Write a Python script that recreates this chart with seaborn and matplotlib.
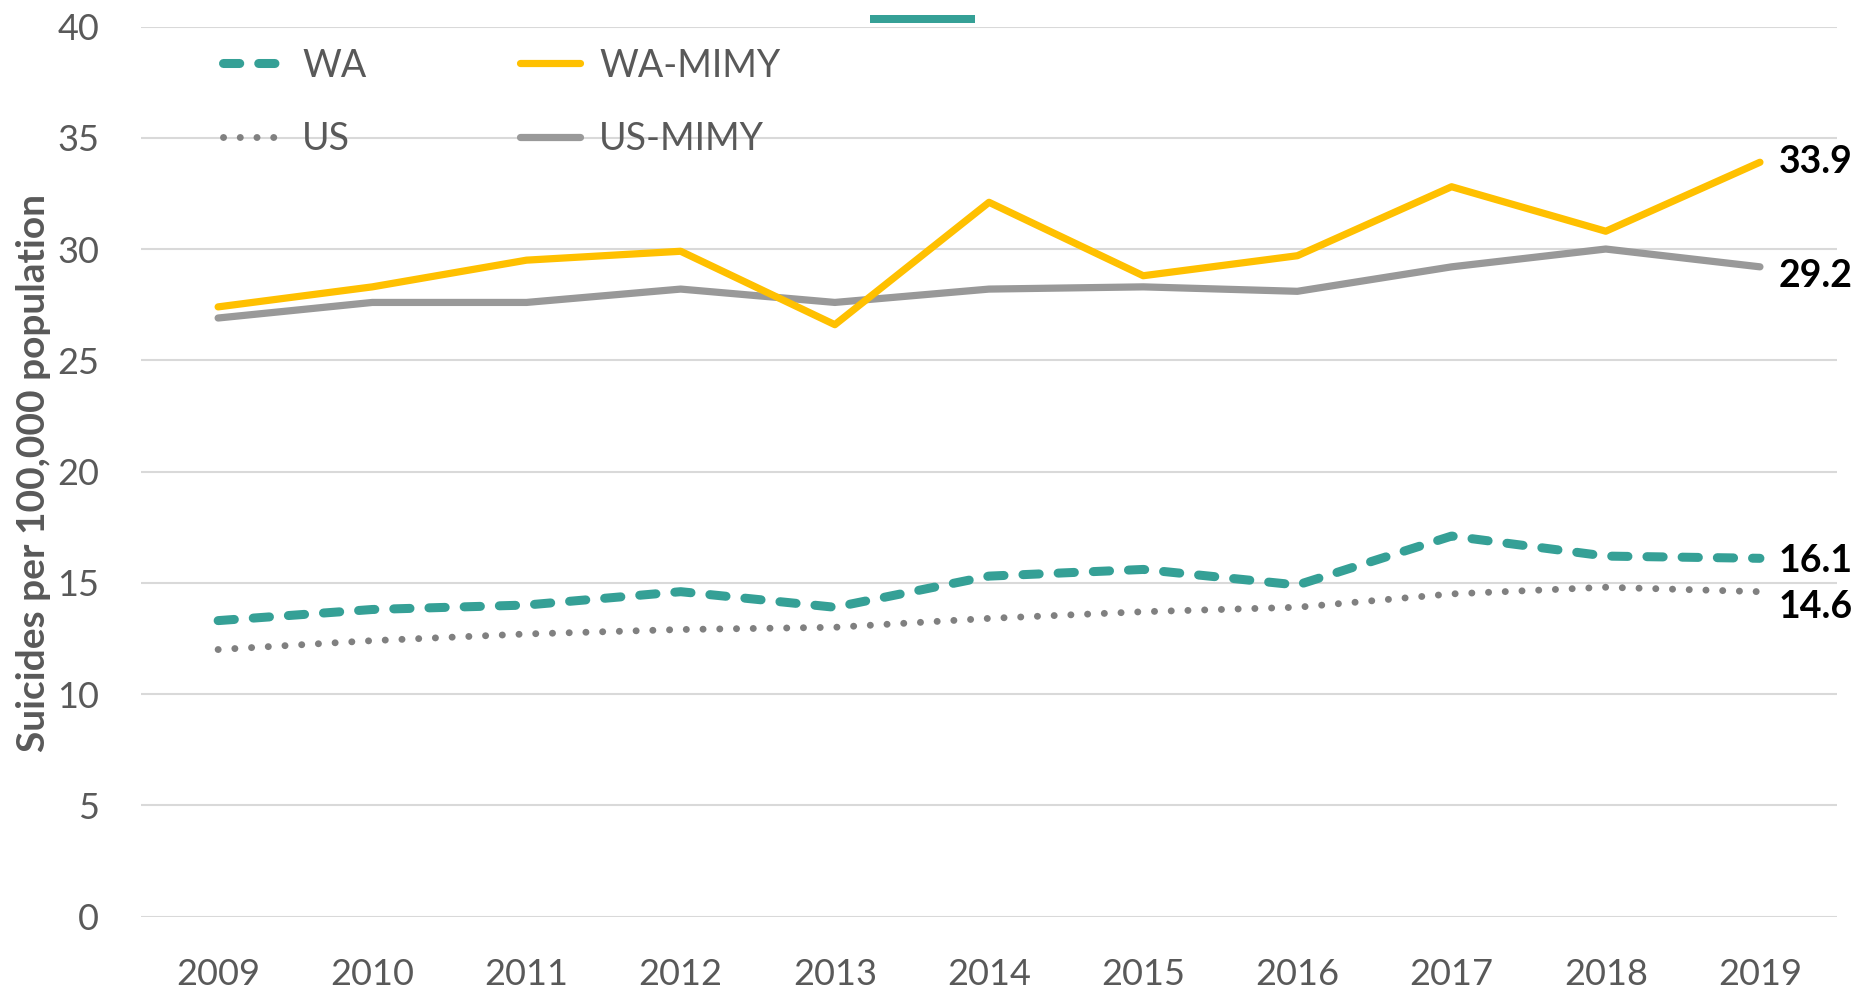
import matplotlib
matplotlib.use("Agg")
import matplotlib.pyplot as plt
import seaborn as sns
import pandas as pd
from matplotlib.patches import Rectangle

years = [2009, 2010, 2011, 2012, 2013, 2014, 2015, 2016, 2017, 2018, 2019]
wa = [13.3, 13.8, 14.0, 14.6, 13.9, 15.3, 15.6, 14.9, 17.1, 16.2, 16.1]
wa_mimy = [27.4, 28.3, 29.5, 29.9, 26.6, 32.1, 28.8, 29.7, 32.8, 30.8, 33.9]
us = [12.0, 12.4, 12.7, 12.9, 13.0, 13.4, 13.7, 13.9, 14.5, 14.8, 14.6]
us_mimy = [26.9, 27.6, 27.6, 28.2, 27.6, 28.2, 28.3, 28.1, 29.2, 30.0, 29.2]
y_ticks = [0, 5, 10, 15, 20, 25, 30, 35, 40]

TEAL = "#35A096"
YELLOW = "#FFC000"
GRAY = "#999999"
DOTGRAY = "#808080"
TXT = "#595959"

sns.set_style("white")
plt.rcParams["font.family"] = ["Lato", "DejaVu Sans"]

df = pd.DataFrame({"year": years, "WA": wa, "WA-MIMY": wa_mimy,
                   "US": us, "US-MIMY": us_mimy})

fig = plt.figure(figsize=(18.73, 9.9), dpi=100)
ax = fig.add_axes([0.0753, 0.0742, 0.9055, 0.899])

styles = {
    "WA": dict(color=TEAL, lw=6.5, dashes=(1.8, 2.1)),
    "WA-MIMY": dict(color=YELLOW, lw=5.2, dashes=None),
    "US": dict(color=DOTGRAY, lw=5.0, dashes=(0.01, 2.4)),
    "US-MIMY": dict(color=GRAY, lw=5.2, dashes=None),
}
handles = {}
for name in ["US", "WA", "US-MIMY", "WA-MIMY"]:
    st = styles[name]
    sns.lineplot(data=df, x="year", y=name, ax=ax, label=name, color=st["color"])
    line = ax.lines[-1]
    line.set_linewidth(st["lw"])
    if st["dashes"] is not None:
        line.set_dashes(st["dashes"])
    line.set_dash_capstyle("round")
    line.set_solid_capstyle("round")
    handles[name] = line

# end labels
for name, vals, dy in [("WA-MIMY", wa_mimy, 0.0), ("US-MIMY", us_mimy, -0.4),
                       ("WA", wa, -0.1), ("US", us, -0.7)]:
    ax.text(years[-1] + 0.12, vals[-1] + dy, f"{vals[-1]:.1f}", fontsize=27,
            fontweight="bold", color="black", va="center", ha="left",
            clip_on=False)

ax.set_xlim(2008.5, 2019.5)
ax.set_ylim(0, 40)
ax.set_xticks(years)
ax.set_yticks(y_ticks)
ax.tick_params(axis="both", length=0, labelsize=26, labelcolor=TXT)
ax.tick_params(axis="x", pad=30)
ax.tick_params(axis="y", pad=30)
ax.grid(axis="y", color="#D9D9D9", lw=1.5)
ax.grid(axis="x", visible=False)
for s in ax.spines.values():
    s.set_visible(False)
ax.set_xlabel("")
ax.set_ylabel("Suicides per 100,000 population", fontsize=28, fontweight="bold",
              color=TXT)
ax.yaxis.set_label_coords(-0.053, 0.498)

order = ["WA", "US", "WA-MIMY", "US-MIMY"]
leg = ax.legend([handles[k] for k in order], order, ncol=2, loc="upper left",
                bbox_to_anchor=(0.1193, 0.952), bbox_transform=fig.transFigure,
                frameon=False, fontsize=27, handlelength=1.6, handletextpad=0.5,
                columnspacing=4.1, labelspacing=1.0, borderpad=0, borderaxespad=0)
for t in leg.get_texts():
    t.set_color(TXT)

fig.add_artist(Rectangle((870 / 1873, 1 - 23 / 990), 105 / 1873, 8 / 990,
                         transform=fig.transFigure, color=TEAL, lw=0))

fig.savefig("out.png", dpi=100)
